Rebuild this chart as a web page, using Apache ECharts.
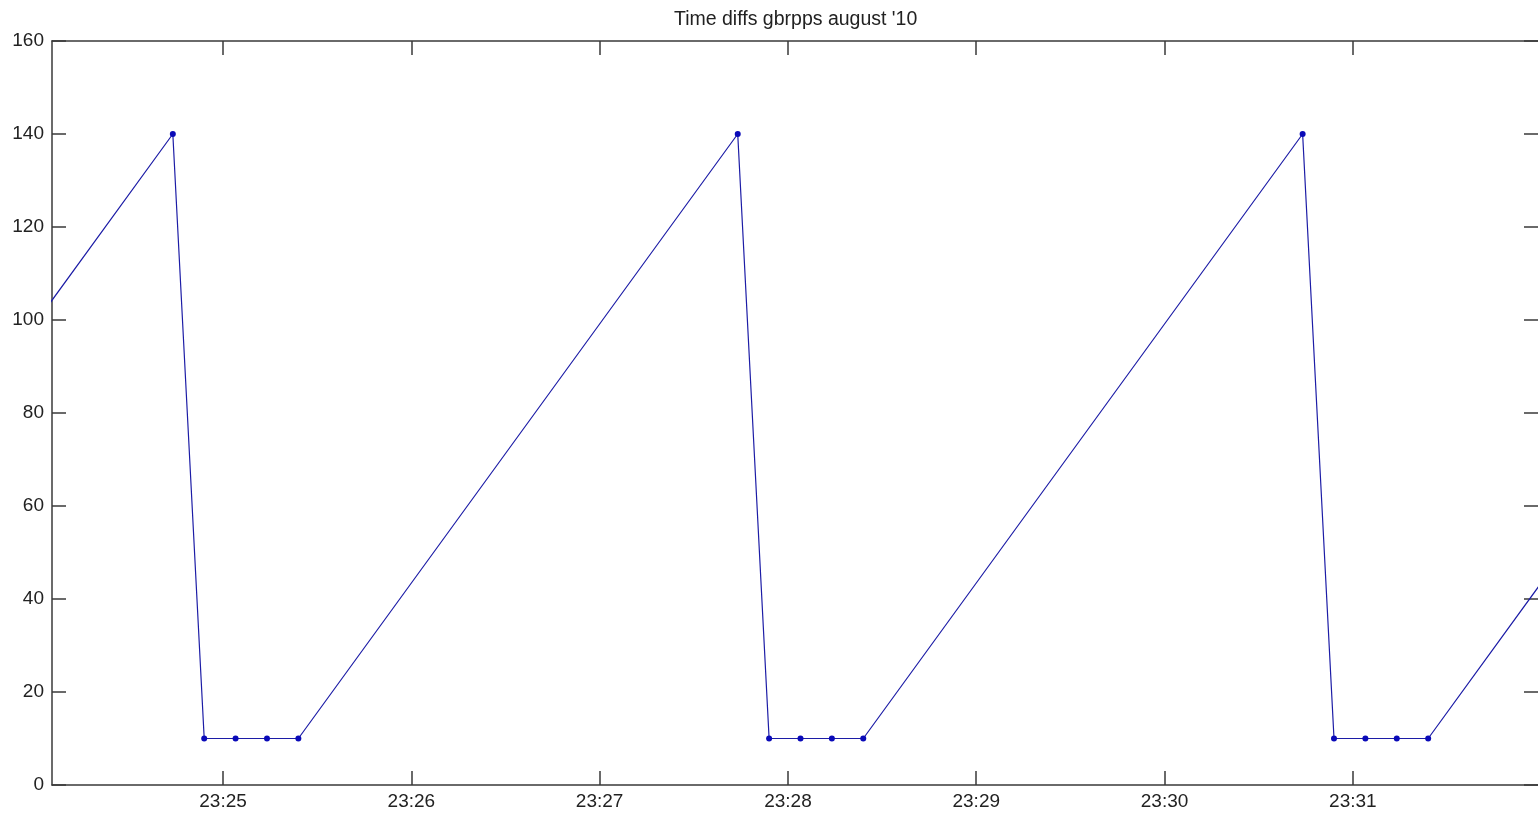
<!DOCTYPE html>
<html>
<head>
<meta charset="utf-8">
<script src="https://cdn.jsdelivr.net/npm/echarts@6/dist/echarts.min.js"></script>
<style>
html,body{margin:0;padding:0;background:#fff;}
#c{width:1538px;height:814px;}
</style>
</head>
<body>
<div id="c"></div>
<script>
const titleText = "Time diffs gbrpps august '10";
const xTickLabels = ['23:25','23:26','23:27','23:28','23:29','23:30','23:31'];
const yTicks = [0,20,40,60,80,100,120,140,160];
const times = ['23:22:24','23:24:44','23:24:54','23:25:04','23:25:14','23:25:24',
               '23:27:44','23:27:54','23:28:04','23:28:14','23:28:24',
               '23:30:44','23:30:54','23:31:04','23:31:14','23:31:24','23:33:44'];
const values = [10,140,10,10,10,10,140,10,10,10,10,140,10,10,10,10,140];
const xRange = ['23:24:05.5','23:31:59'];

function toSec(s){
  const p = s.split(':').map(Number);
  return p[0]*3600 + p[1]*60 + (p[2]||0);
}
function fmt(v){
  const h = Math.floor(v/3600), m = Math.round((v - h*3600)/60);
  return String(h).padStart(2,'0') + ':' + String(m).padStart(2,'0');
}
const tickSecs = xTickLabels.map(toSec);
const data = times.map((t,i)=>[toSec(t), values[i]]);
const xMin = toSec(xRange[0]), xMax = toSec(xRange[1]);

const axisColor = '#3a3a3a';
const font = {fontFamily:'"Liberation Sans", Arial, sans-serif', fontSize:19, color:'#222'};

const chart = echarts.init(document.getElementById('c'), null, {renderer:'canvas'});
chart.setOption({
  backgroundColor:'#fff',
  animation:false,
  title:{text:titleText, left:669, top:5,
    textStyle:Object.assign({fontWeight:'normal'}, font, {fontSize:19.5})},
  grid:{left:52, top:41, right:0, height:744, containLabel:false},
  xAxis:[
    {type:'value', position:'bottom', min:xMin, max:xMax,
     axisLine:{show:true, onZero:false, lineStyle:{color:axisColor, width:1.5}},
     axisTick:{show:true, inside:true, length:14, customValues:tickSecs, lineStyle:{color:axisColor, width:1.5}},
     axisLabel:{show:true, customValues:tickSecs, formatter:fmt, margin:7, ...font},
     splitLine:{show:false}},
    {type:'value', position:'top', min:xMin, max:xMax,
     axisLine:{show:true, onZero:false, lineStyle:{color:axisColor, width:1.5}},
     axisTick:{show:true, inside:true, length:14, customValues:tickSecs, lineStyle:{color:axisColor, width:1.5}},
     axisLabel:{show:false},
     splitLine:{show:false}}
  ],
  yAxis:[
    {type:'value', position:'left', min:yTicks[0], max:yTicks[yTicks.length-1], interval:20,
     axisLine:{show:true, onZero:false, lineStyle:{color:axisColor, width:1.5}},
     axisTick:{show:true, inside:true, length:14, lineStyle:{color:axisColor, width:1.5}},
     axisLabel:{show:true, margin:8, ...font},
     splitLine:{show:false}},
    {type:'value', position:'right', min:yTicks[0], max:yTicks[yTicks.length-1], interval:20,
     axisLine:{show:false},
     axisTick:{show:true, inside:true, length:14, lineStyle:{color:axisColor, width:1.5}},
     axisLabel:{show:false},
     splitLine:{show:false}}
  ],
  series:[{
    type:'line', xAxisIndex:0, yAxisIndex:0, data:data,
    clip:true,
    symbol:'circle', symbolSize:6, showAllSymbol:true,
    lineStyle:{color:'#1c1ca6', width:1.2},
    itemStyle:{color:'#0a0ab8'}
  }]
});
</script>
</body>
</html>
